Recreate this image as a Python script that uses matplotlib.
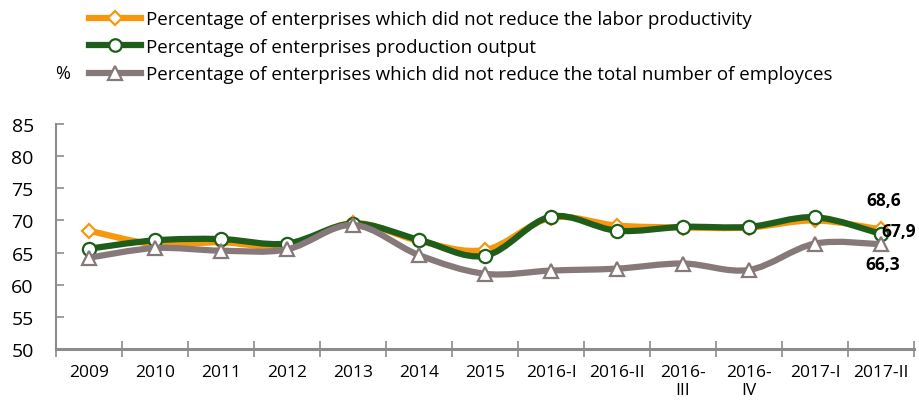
import numpy as np
import matplotlib
matplotlib.use("Agg")
import matplotlib.pyplot as plt
from matplotlib.path import Path
from matplotlib.patches import PathPatch
from matplotlib.lines import Line2D

# --------------------------------------------------------------
# Data
# --------------------------------------------------------------

periods = ["2009", "2010", "2011", "2012", "2013", "2014", "2015",
           "2016-I", "2016-II", "2016-\nIII", "2016-\nIV", "2017-I", "2017-II"]

labor_productivity = [68.4, 66.3, 66.6, 66.0, 69.6, 66.8, 65.4,
                      70.4, 69.2, 68.9, 68.9, 70.0, 68.6]
production_output = [65.6, 66.9, 67.1, 66.4, 69.5, 67.0, 64.5,
                     70.6, 68.4, 69.0, 69.0, 70.5, 67.9]
total_employees = [64.2, 65.7, 65.3, 65.5, 69.3, 64.6, 61.7,
                   62.2, 62.5, 63.3, 62.3, 66.4, 66.3]

series_names = ["Percentage of enterprises which did not reduce the labor productivity",
                "Percentage of enterprises production output",
                "Percentage of enterprises which did not reduce the total number of employces"]

# --------------------------------------------------------------
# Style
# --------------------------------------------------------------

plt.rcParams["font.family"] = ["Open Sans", "DejaVu Sans"]
orange = "#F7980C"
green = "#1E5E1A"
grey = "#87797A"
axis_grey = "#8C8C8C"


def smooth_path(x, y):
    # Catmull-Rom style smoothing (like Excel "smoothed line"), as bezier segments
    pts = np.column_stack([x, y]).astype(float)
    n = len(pts)
    verts = [pts[0]]
    codes = [Path.MOVETO]
    for i in range(n - 1):
        p0 = pts[i - 1] if i > 0 else pts[i]
        p1 = pts[i]
        p2 = pts[i + 1]
        p3 = pts[i + 2] if i + 2 < n else pts[i + 1]
        c1 = p1 + (p2 - p0) / 6.0
        c2 = p2 - (p3 - p1) / 6.0
        verts += [c1, c2, p2]
        codes += [Path.CURVE4] * 3
    return Path(verts, codes)


fig = plt.figure(figsize=(9.2, 4.1), dpi=100)
ax = fig.add_axes([56 / 920, 1 - 350 / 410, 858 / 920, 225 / 410])

x = np.arange(len(periods))
series = [
    (labor_productivity, orange, "D", 7.5),
    (production_output, green, "o", 9.5),
    (total_employees, grey, "^", 10.5),
]
for z, (vals, col, mk, ms) in enumerate(series):
    ax.add_patch(PathPatch(smooth_path(x, vals), facecolor="none", edgecolor=col,
                           lw=4.5, capstyle="round", joinstyle="round", zorder=2 + z * 2))
    ax.plot(x, vals, ls="none", marker=mk, ms=ms, mfc="white", mec=col, mew=1.6,
            zorder=3 + z * 2)

ax.set_xlim(-0.5, len(periods) - 0.5)
ax.set_ylim(50, 85)
ax.set_yticks(np.arange(50, 86, 5))

ax.set_xticks(np.arange(-0.5, len(periods), 1.0))
ax.set_xticklabels([])
ax.set_xticks(x, minor=True)
ax.set_xticklabels(periods, minor=True, fontsize=12.5, va="top", linespacing=1.15)
ax.tick_params(axis="x", which="major", direction="inout", length=12, width=1.2,
               color=axis_grey)
ax.tick_params(axis="x", which="minor", length=0, pad=11)
ax.tick_params(axis="y", direction="in", length=6, width=1.2, color=axis_grey,
               labelsize=14, pad=16)

for s in ["top", "right"]:
    ax.spines[s].set_visible(False)
for s in ["left", "bottom"]:
    ax.spines[s].set_color(axis_grey)
    ax.spines[s].set_linewidth(1.5)
ax.spines["bottom"].set_linewidth(2.2)

# data labels for the last period
lbl = dict(textcoords="offset points", fontsize=12.5, fontweight="bold", va="center",
           zorder=10)
ax.annotate(f"{labor_productivity[-1]:.1f}".replace(".", ","),
            (x[-1], labor_productivity[-1]), xytext=(2, 21), ha="center", **lbl)
ax.annotate(f"{production_output[-1]:.1f}".replace(".", ","),
            (x[-1], production_output[-1]), xytext=(0.5, 2), ha="left", **lbl)
ax.annotate(f"{total_employees[-1]:.1f}".replace(".", ","),
            (x[-1], total_employees[-1]), xytext=(1, -14), ha="center", **lbl)

# legend
handles = [
    Line2D([], [], color=orange, lw=4.5, marker="D", ms=7, mfc="white", mec=orange, mew=1.6),
    Line2D([], [], color=green, lw=4.5, marker="o", ms=9, mfc="white", mec=green, mew=1.6),
    Line2D([], [], color=grey, lw=4.5, marker="^", ms=9.5, mfc="white", mec=grey, mew=1.6),
]
fig.legend(handles, series_names, loc="upper left", bbox_to_anchor=(80 / 920, 0.995),
           frameon=False, fontsize=13.5, handlelength=2.75, handletextpad=0.25,
           labelspacing=0.5, borderaxespad=0.1)
fig.text(63 / 920, 1 - 74 / 410, "%", fontsize=13, ha="center", va="center")

fig.savefig("out.png", dpi=100)
